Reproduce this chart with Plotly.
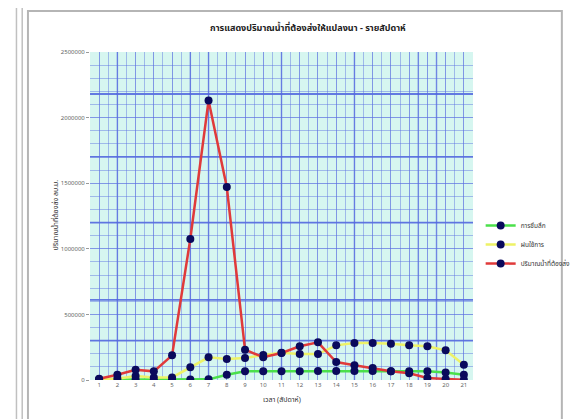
import plotly.graph_objects as go

weeks = list(range(1, 22))
percolation = [2000, 2000, 3000, 3000, 4000, 4000, 5000, 40000, 66000, 66000, 66000, 66000,
               68000, 68000, 68000, 68000, 66000, 66000, 66000, 58000, 40000]
eff_rain = [5000, 10000, 30000, 20000, 20000, 97000, 173000, 160000, 168000, 190000, 208000, 198000,
            198000, 264000, 282000, 282000, 277000, 264000, 257000, 226000, 117000]
water_req = [10000, 40000, 78000, 66000, 188000, 1075000, 2130000, 1471000, 231000, 173000, 206000,
             257000, 287000, 137000, 112000, 91000, 66000, 51000, 15000, 8000, 2000]

series_names = ["การซึมลึก", "ฝนใช้การ", "ปริมาณน้ำที่ต้องส่ง"]
title_text = "การแสดงปริมาณน้ำที่ต้องส่งให้แปลงนา - รายสัปดาห์"
x_title = "เวลา (สัปดาห์)"
y_title = "ปริมาณน้ำที่ต้องส่ง ลบ.ม."
y_ticks = [0, 500000, 1000000, 1500000, 2000000, 2500000]

FONT = "Noto Sans Thai, Noto Sans, DejaVu Sans, sans-serif"
marker_color = "#0a0a5c"

fig = go.Figure()
for name, vals, col in [(series_names[0], percolation, "#4be04b"),
                        (series_names[1], eff_rain, "#eef266"),
                        (series_names[2], water_req, "#e03a3a")]:
    fig.add_trace(go.Scatter(x=weeks, y=vals, name=name, mode="lines+markers",
                             line=dict(color=col, width=2.5),
                             marker=dict(color=marker_color, size=8)))

shapes = []
fine_col = "rgba(90,110,225,0.45)"
thick_col = "rgba(60,80,220,0.75)"
for yv in [300000, 610000, 1200000, 1700000, 2180000]:
    shapes.append(dict(type="line", xref="paper", yref="y", x0=0, x1=1, y0=yv, y1=yv,
                       line=dict(color=thick_col, width=1.8), layer="below"))
for xv in [2, 6, 7, 11, 15, 18.5, 19.5]:
    shapes.append(dict(type="line", xref="x", yref="paper", x0=xv, x1=xv, y0=0, y1=1,
                       line=dict(color="rgba(60,80,220,0.55)", width=1.5), layer="below"))
# chart frame
shapes.append(dict(type="rect", xref="paper", yref="paper", x0=-0.162, x1=1.232, y0=-0.134, y1=1.125,
                   line=dict(color="#b5b5b5", width=2)))
for xl in [-0.192, -0.177]:
    shapes.append(dict(type="line", xref="paper", yref="paper", x0=xl, x1=xl, y0=-0.134, y1=1.14,
                       line=dict(color="#c0c0c0", width=1.5)))

fig.update_layout(
    width=580, height=419,
    margin=dict(l=82, r=97, t=44, b=47),
    paper_bgcolor="white", plot_bgcolor="#d6f6f0",
    font=dict(family=FONT, size=7, color="#555"),
    title=dict(text="<b>" + title_text + "</b>", x=0.517, xanchor="center", y=0.952, yanchor="middle",
               font=dict(size=9, color="#222", family=FONT)),
    showlegend=True,
    legend=dict(x=1.02, y=0.515, xanchor="left", yanchor="top", font=dict(size=6.5, color="#333"),
                bgcolor="rgba(0,0,0,0)", tracegroupgap=2, itemwidth=30),
    shapes=shapes,
    annotations=[
        dict(text=y_title, xref="paper", yref="paper", x=-0.11, y=0.503, textangle=-90,
             showarrow=False, font=dict(size=7, color="#333")),
        dict(text=x_title, xref="paper", yref="paper", x=0.5, y=-0.082, showarrow=False,
             font=dict(size=7, color="#333")),
    ],
)
fig.update_xaxes(range=[0.5, 21.5], tickvals=weeks, ticktext=[str(w) for w in weeks],
                 showgrid=True, gridcolor=fine_col, gridwidth=1,
                 minor=dict(dtick=0.5, tick0=0.5, showgrid=True, gridcolor=fine_col, gridwidth=1),
                 zeroline=False, showline=False, ticks="", tickfont=dict(size=6, color="#666"))
fig.update_yaxes(range=[0, 2500000], tickvals=y_ticks, ticktext=[str(v) for v in y_ticks],
                 showgrid=True, gridcolor=fine_col, gridwidth=1,
                 minor=dict(dtick=100000, tick0=0, showgrid=True, gridcolor=fine_col, gridwidth=1),
                 zeroline=False, showline=False, ticks="outside", ticklen=3, tickcolor="#999",
                 tickfont=dict(size=6, color="#666"))

fig.write_html("out.html")
